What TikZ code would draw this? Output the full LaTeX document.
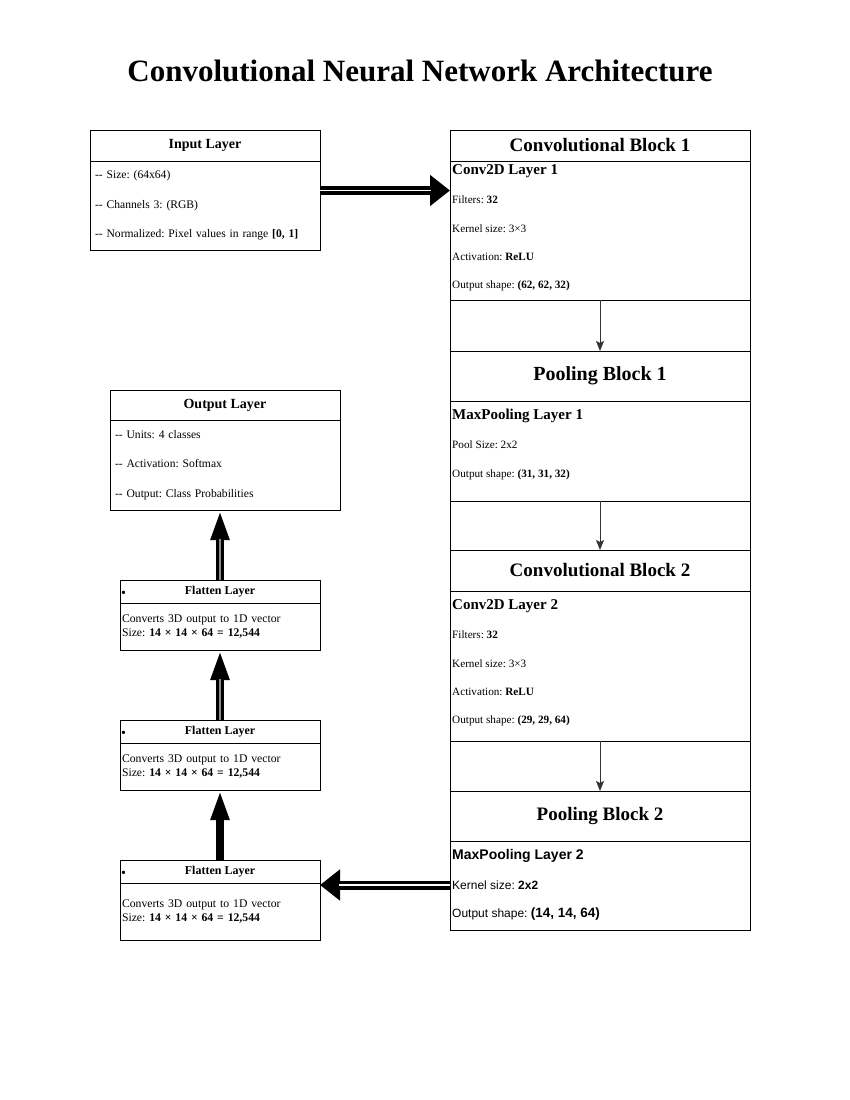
\documentclass[tikz,border=0pt]{standalone}
\usepackage{fontspec}
\setmainfont{Liberation Serif}
\newfontfamily\arialfont{Liberation Sans}
\usetikzlibrary{arrows.meta,positioning}
\newcommand{\dsh}{-\kern0pt-}
\frenchspacing

\begin{document}
\begin{tikzpicture}[x=1pt, y=-1pt, node distance=0pt, font=\fontsize{12}{14}\selectfont]
  \tikzstyle{box}=[rectangle,draw,line width=0.8pt,inner sep=0pt,outer sep=0pt]
  \tikzstyle{colhead}=[box,minimum width=300pt,font=\fontsize{19}{22}\selectfont\bfseries]
  \tikzstyle{colbody}=[box,minimum width=300pt]
  \tikzstyle{gapbox}=[box,minimum width=300pt,minimum height=50pt]
  \tikzstyle{bodytext}=[align=left,inner sep=0pt,font=\fontsize{11.2}{28.3}\selectfont]
  \tikzstyle{layhead}=[box,minimum width=230pt,minimum height=30pt,font=\fontsize{14}{16}\selectfont\bfseries]
  \tikzstyle{laybody}=[box,minimum width=230pt,minimum height=90pt,align=left,text width=220pt,font=\fontsize{11.6}{29.5}\selectfont]
  \tikzstyle{flathead}=[box,minimum width=200pt,minimum height=23pt,font=\fontsize{12}{14}\selectfont\bfseries]
  \tikzstyle{flatbody}=[box,minimum width=200pt,minimum height=47pt,align=left,text width=196pt,font=\fontsize{11.7}{14}\selectfont]
  \tikzstyle{dot}=[inner sep=0pt,anchor=west,font=\fontsize{14}{14}\selectfont]
  \tikzstyle{flow}=[draw=black!80,line width=0.8pt,-{Stealth[length=10pt,width=8pt,inset=2pt]}]
  \tikzstyle{fatarrow}=[line width=9pt,-{Triangle[length=20pt,width=30pt]}]
  \tikzstyle{uparrow}=[line width=8pt,-{Triangle[length=30pt,width=17pt]}]

  \useasboundingbox (0,0) rectangle (850,1100);

  % title
  \node[font=\fontsize{31}{36}\selectfont\bfseries] (title) at (420,71) {Convolutional Neural Network Architecture};

  % input layer
  \node[layhead,minimum height=31pt] (inhead) at (205,145.5) {Input Layer};
  \node[laybody,minimum height=89pt,below=of inhead] (inbody) {\dsh{} Size: (64x64)\\ \dsh{} Channels 3: (RGB)\\ \dsh{} Normalized: Pixel values in range \textbf{[0, 1]}};

  % right column
  \node[colhead,minimum height=31pt] (c1head) at (600,145.5) {Convolutional Block 1};
  \node[colbody,minimum height=139pt,below=of c1head] (c1body) {};
  \node[gapbox,minimum height=51pt,below=of c1body] (gap1) {};
  \node[colhead,minimum height=50pt,font=\fontsize{20}{24}\selectfont\bfseries,below=of gap1] (p1head) {Pooling Block 1};
  \node[colbody,minimum height=100pt,below=of p1head] (p1body) {};
  \node[gapbox,minimum height=49pt,below=of p1body] (gap2) {};
  \node[colhead,minimum height=41pt,below=of gap2] (c2head) {Convolutional Block 2};
  \node[colbody,minimum height=150pt,below=of c2head] (c2body) {};
  \node[gapbox,below=of c2body] (gap3) {};
  \node[colhead,minimum height=50pt,below=of gap3] (p2head) {Pooling Block 2};
  \node[colbody,minimum height=89pt,below=of p2head] (p2body) {};

  \node[bodytext,below right=3pt and 2pt of c1body.north west] (c1text) {{\fontsize{15}{28.3}\selectfont\bfseries Conv2D Layer 1}\\[1.5pt] Filters: \textbf{32}\\ Kernel size: 3×3\\ Activation: \textbf{ReLU}\\ Output shape: \textbf{(62, 62, 32)}};
  \node[bodytext,below right=7.5pt and 2pt of p1body.north west] (p1text) {{\fontsize{15}{28.3}\selectfont\bfseries MaxPooling Layer 1}\\[1.5pt] Pool Size: 2x2\\ Output shape: \textbf{(31, 31, 32)}};
  \node[bodytext,below right=8.5pt and 2pt of c2body.north west] (c2text) {{\fontsize{15}{28.3}\selectfont\bfseries Conv2D Layer 2}\\[1pt] Filters: \textbf{32}\\ Kernel size: 3×3\\ Activation: \textbf{ReLU}\\ Output shape: \textbf{(29, 29, 64)}};
  \node[bodytext,font=\arialfont\fontsize{12}{28.3}\selectfont,below right=8pt and 2pt of p2body.north west] (p2text) {{\fontsize{14}{28.3}\selectfont\bfseries MaxPooling Layer 2}\\[1.5pt] Kernel size: \textbf{2x2}\\ Output shape: {\fontsize{13.5}{28.3}\selectfont\bfseries (14, 14, 64)}};

  % output layer
  \node[layhead] (outhead) at (225,405) {Output Layer};
  \node[laybody,below=of outhead] (outbody) {\dsh{} Units: 4 classes\\ \dsh{} Activation: Softmax\\ \dsh{} Output: Class Probabilities};

  % flatten layers
  \node[flathead] (f1head) at (220,591.5) {Flatten Layer};
  \node[flatbody,below=of f1head] (f1body) {Converts 3D output to 1D vector\\ Size: \textbf{14 × 14 × 64 = 12,544}};
  \node[dot] (f1dot) at ([xshift=1pt,yshift=-3pt]f1head.west) {\textbullet};
  \node[flathead] (f2head) at (220,731.5) {Flatten Layer};
  \node[flatbody,below=of f2head] (f2body) {Converts 3D output to 1D vector\\ Size: \textbf{14 × 14 × 64 = 12,544}};
  \node[dot] (f2dot) at ([xshift=1pt,yshift=-3pt]f2head.west) {\textbullet};
  \node[flathead] (f3head) at (220,871.5) {Flatten Layer};
  \node[flatbody,minimum height=57pt,below=of f3head] (f3body) {Converts 3D output to 1D vector\\ Size: \textbf{14 × 14 × 64 = 12,544}};
  \node[dot] (f3dot) at ([xshift=1pt,yshift=-3pt]f3head.west) {\textbullet};

  % arrows
  \coordinate (inport) at ([yshift=-29.5pt]inbody.north east);
  \coordinate (poolport) at ([yshift=-44pt]p2body.north west);
  \draw[fatarrow] (inport) -- (inport -| c1body.west);
  \draw[white,line width=1.2pt,shorten >=19pt] (inport) -- (inport -| c1body.west);
  \draw[fatarrow] (poolport) -- (poolport -| f3body.east);
  \draw[white,line width=1.2pt,shorten >=19pt] (poolport) -- (poolport -| f3body.east);
  \draw[flow] (gap1.north) -- (gap1.south);
  \draw[flow] (gap2.north) -- (gap2.south);
  \draw[flow] (gap3.north) -- (gap3.south);
  \draw[uparrow] (f3head.north) -- (f2body.south);
  \draw[uparrow] (f2head.north) -- (f1body.south);
  \draw[black!45,line width=1.5pt,shorten >=29pt] (f2head.north) -- (f1body.south);
  \draw[uparrow] (f1head.north) -- (f1head.north |- outbody.south);
  \draw[black!45,line width=1.5pt,shorten >=29pt] (f1head.north) -- (f1head.north |- outbody.south);
\end{tikzpicture}
\end{document}
